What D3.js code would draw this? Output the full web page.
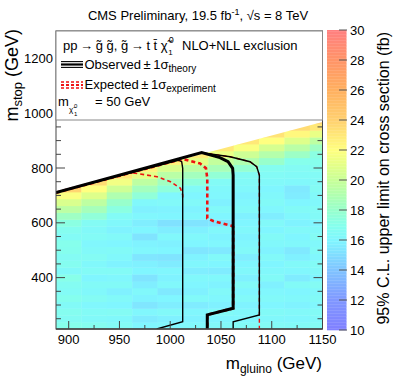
<!DOCTYPE html>
<html>
<head>
<meta charset="utf-8">
<script src="https://cdn.jsdelivr.net/npm/d3@7"></script>
<style>
body { margin: 0; background: #fff; }
svg text { font-family: "Liberation Sans", Arial, Helvetica, sans-serif; fill: #000; }
</style>
</head>
<body>
<svg id="chart" width="399" height="383"></svg>
<script>
// gluino mass bin centres (GeV)
var gluinoMasses = [900, 925, 950, 975, 1000, 1025, 1050, 1075, 1100, 1125, 1150]
// stop mass bins start at 225 GeV and go up in 25 GeV steps
var stopStart = 225, stopStep = 25

// 95% CL upper limit on cross section (fb), one column per gluino mass, bottom to top
var limits = [
    [17.0, 16.6, 16.8, 16.4, 16.9, 16.5, 16.7, 17.1, 16.3, 16.8, 16.6, 16.9, 17.0, 16.5, 16.8, 17.3, 18.3, 19.5, 20.6, 21.8, 23.8],
    [16.8, 16.3, 16.5, 16.1, 16.6, 16.2, 16.4, 16.0, 16.5, 16.2, 16.6, 16.3, 16.1, 16.5, 16.3, 16.6, 17.6, 18.6, 19.6, 20.8, 22.0, 23.5],
    [16.5, 16.2, 16.6, 16.0, 16.3, 15.8, 16.4, 16.1, 16.5, 15.9, 16.2, 16.4, 16.0, 16.3, 15.9, 16.2, 16.5, 17.3, 18.0, 19.0, 20.2, 21.5, 23.0],
    [16.0, 15.6, 16.1, 15.4, 15.9, 16.2, 15.7, 15.3, 16.0, 15.8, 15.4, 16.1, 15.9, 15.3, 16.0, 15.7, 16.1, 15.8, 16.2, 17.6, 18.5, 19.6, 21.0, 22.5],
    [16.1, 15.8, 16.3, 15.7, 16.0, 15.5, 16.2, 15.9, 16.1, 15.6, 15.3, 16.0, 15.8, 16.2, 15.7, 15.2, 16.0, 15.9, 16.3, 16.1, 17.5, 18.4, 19.4, 20.6, 22.5],
    [16.2, 15.9, 16.1, 15.6, 16.3, 15.8, 16.0, 16.2, 15.7, 16.1, 15.9, 15.4, 16.0, 16.2, 15.8, 15.3, 16.1, 15.9, 16.3, 16.0, 16.4, 17.5, 18.5, 19.5, 21.0, 22.8],
    [16.3, 16.0, 16.4, 15.8, 16.1, 16.3, 15.9, 16.2, 15.6, 16.0, 16.3, 15.5, 16.1, 15.9, 16.2, 15.4, 16.0, 16.3, 15.8, 16.1, 16.2, 16.5, 17.7, 18.7, 19.8, 21.3, 23.0],
    [16.4, 16.1, 16.2, 15.9, 16.3, 16.0, 16.4, 15.8, 16.2, 16.0, 15.7, 16.3, 16.1, 15.9, 16.2, 16.0, 15.8, 16.3, 16.1, 15.9, 16.2, 16.4, 16.6, 17.8, 19.0, 20.2, 21.8, 23.0],
    [16.5, 16.2, 16.4, 16.0, 16.3, 16.1, 15.8, 16.4, 16.2, 16.0, 16.3, 15.9, 16.2, 16.4, 16.0, 16.3, 15.7, 16.1, 16.4, 16.2, 16.0, 16.3, 16.5, 16.8, 18.0, 19.2, 20.5, 22.0, 23.2],
    [16.4, 16.1, 16.3, 15.9, 16.2, 16.0, 16.4, 15.6, 16.1, 16.3, 15.8, 15.5, 16.2, 16.0, 16.3, 15.9, 16.1, 16.4, 16.0, 15.6, 15.5, 16.2, 16.4, 16.6, 17.0, 18.2, 19.4, 20.8, 22.3, 23.5],
    [16.6, 16.3, 16.5, 16.1, 16.4, 16.2, 16.6, 16.0, 16.3, 16.5, 16.1, 16.4, 16.2, 16.6, 16.3, 16.0, 16.4, 16.5, 16.2, 16.3, 16.6, 16.4, 16.5, 16.8, 17.0, 17.3, 18.3, 19.6, 21.2, 23.0, 24.0]
]

// kinematic edge of the scan [m_gluino, m_stop]
var diagonal = [[887.5, 710], [1150, 968]]

// exclusion contours [m_gluino, m_stop]
var observed = [[887.5, 710], [1031, 856], [1049, 838], [1057, 823], [1061.5, 799], [1062, 774], [1062, 288], [1036.5, 264], [1036.5, 212.5]]
var observedDown = [[887.5, 710], [1008, 828.5], [1011.3, 823], [1012.3, 799], [1012.3, 239], [986.7, 212.5]]
var observedUp = [[887.5, 710], [1031, 856], [1059, 841], [1078.6, 823], [1085.2, 805], [1087.8, 774], [1087.8, 264], [1062, 239], [1062, 212.5]]
var expected = [[887.5, 710], [1012, 833], [1029.3, 817], [1035.2, 799], [1036.5, 762], [1036.5, 616.5], [1042.4, 606.6], [1060.5, 589.4], [1062, 585], [1062, 288], [1036.5, 264], [1036.5, 212.5]]
var expectedDown = [[963.6, 782], [987, 768.3], [1000.3, 750], [1010.1, 726], [1012.3, 701.5], [1012.3, 690]]
var expectedUp = [[1031, 856], [1059, 841], [1078.6, 823], [1085.2, 805], [1087.8, 774], [1087.8, 212.5]]

// colour palette
var zStops = [10, 12, 14, 15, 16, 17, 18, 19, 20, 21, 22, 23, 24, 26, 28, 30]
var zColors = ["#8080ff", "#8098ff", "#80c4ff", "#80dcff", "#80f6ff", "#86ffec", "#98ffcc", "#b0ffb0",
               "#c8ff98", "#e4ff88", "#ffff80", "#ffe878", "#ffd070", "#ffb060", "#ff9468", "#ff8080"]
var zTicks = [10, 12, 14, 16, 18, 20, 22, 24, 26, 28, 30]
var xTicks = [900, 950, 1000, 1050, 1100, 1150]
var yTicks = [400, 600, 800, 1000, 1200]

var svg = d3.select("#chart")
var plotLeft = 56, plotRight = 322.5, plotTop = 31, plotBottom = 329

var x = d3.scaleLinear().domain([887.5, 1150]).range([plotLeft, plotRight])
var y = d3.scaleLinear().domain([212.5, 1300]).range([plotBottom, plotTop])
var colour = d3.scaleLinear().domain(zStops).range(zColors).clamp(true)

var defs = svg.append("defs")
defs.append("clipPath").attr("id", "scan")
    .append("path")
    .attr("d", "M" + [[887.5, 212.5], diagonal[0], diagonal[1], [1150, 212.5]].map(function(p) {
        return x(p[0]) + "," + y(p[1])
    }).join("L") + "Z")
defs.append("clipPath").attr("id", "frame")
    .append("rect")
    .attr("x", plotLeft).attr("y", plotTop).attr("width", plotRight - plotLeft).attr("height", plotBottom - plotTop)

// cells
var cells = []
limits.forEach(function(col, i) {
    col.forEach(function(v, k) {
        cells.push({g: gluinoMasses[i], s: stopStart + k * stopStep, v: v})
    })
})

svg.append("g")
    .attr("clip-path", "url(#scan)")
    .selectAll("rect")
    .data(cells)
    .enter()
    .append("rect")
    .attr("x", d => x(d.g - 12.5))
    .attr("y", d => y(d.s + 12.5))
    .attr("width", d => x(d.g + 12.5) - x(d.g - 12.5) + 0.4)
    .attr("height", d => y(d.s - 12.5) - y(d.s + 12.5) + 0.4)
    .attr("fill", d => colour(d.v))

// contours
var line = d3.line().x(d => x(d[0])).y(d => y(d[1])).curve(d3.curveLinear)
var contours = svg.append("g").attr("clip-path", "url(#frame)").attr("fill", "none")

contours.append("path").attr("d", line(expectedDown))
    .attr("stroke", "#ee1111").attr("stroke-width", 1.6).attr("stroke-dasharray", "4,3")
contours.append("path").attr("d", line(expectedUp))
    .attr("stroke", "#ee1111").attr("stroke-width", 1.4).attr("stroke-dasharray", "4,3")
contours.append("path").attr("d", line(expected))
    .attr("stroke", "#ee1111").attr("stroke-width", 2.6).attr("stroke-dasharray", "4,3")
contours.append("path").attr("d", line(observedDown))
    .attr("stroke", "#000").attr("stroke-width", 1.4)
contours.append("path").attr("d", line(observedUp))
    .attr("stroke", "#000").attr("stroke-width", 1.4)
contours.append("path").attr("d", line(observed))
    .attr("stroke", "#000").attr("stroke-width", 3)

// frame and ticks
var axes = svg.append("g").attr("stroke", "#444").attr("fill", "none")
axes.append("rect")
    .attr("x", plotLeft).attr("y", plotTop).attr("width", plotRight - plotLeft).attr("height", plotBottom - plotTop)
    .attr("stroke-width", 1)
axes.append("line").attr("x1", plotLeft).attr("x2", plotRight).attr("y1", plotBottom).attr("y2", plotBottom)
    .attr("stroke-width", 1.5)

var yMinor = d3.range(250, 1300, 50)
yMinor.forEach(function(v) {
    var len = (v % 200 == 0) ? 9 : 5
    axes.append("line").attr("x1", plotLeft).attr("x2", plotLeft + len).attr("y1", y(v)).attr("y2", y(v))
    axes.append("line").attr("x1", plotRight).attr("x2", plotRight - len).attr("y1", y(v)).attr("y2", y(v))
})
var xMinor = d3.range(900, 1151, 25)
xMinor.forEach(function(v) {
    var len = (v % 50 == 0) ? 8 : 4
    axes.append("line").attr("x1", x(v)).attr("x2", x(v)).attr("y1", plotBottom).attr("y2", plotBottom - len)
})

svg.append("g").selectAll("text")
    .data(yTicks).enter().append("text")
    .attr("x", 53).attr("y", d => y(d) + 4.5)
    .attr("text-anchor", "end")
    .style("font-size", "13px")
    .text(d => d)

svg.append("g").selectAll("text")
    .data(xTicks).enter().append("text")
    .attr("x", d => x(d)).attr("y", 343.5)
    .attr("text-anchor", "middle")
    .style("font-size", "13px")
    .text(d => d)

// legend box
var legend = svg.append("g")
legend.append("rect")
    .attr("x", plotLeft).attr("y", plotTop).attr("width", plotRight - plotLeft).attr("height", 89)
    .attr("fill", "#fff").attr("stroke", "#888").attr("stroke-width", 1)

var fs = "13px"
var l1 = legend.append("text").attr("x", 63).attr("y", 50).style("font-size", fs)
    .text("pp\u2009\u2192\u2009g\u0303 g\u0303, g\u0303\u2009\u2192\u2009t t\u0304 \u03c7\u0303")
var w1 = l1.node().getComputedTextLength()
legend.append("text").attr("x", 63 + w1 + 1).attr("y", 43).style("font-size", "9px").text("0")
legend.append("text").attr("x", 63 + w1 + 0.5).attr("y", 55).style("font-size", "8px").text("1")
legend.append("text").attr("x", 182).attr("y", 50).style("font-size", fs).text("NLO+NLL exclusion")

// observed symbol: thin, thick, thin
;[[61.6, 1.1], [64.5, 2.2], [67.4, 1.1]].forEach(function(s) {
    legend.append("line").attr("x1", 61).attr("x2", 83).attr("y1", s[0]).attr("y2", s[0])
        .attr("stroke", "#000").attr("stroke-width", s[1])
})
var l2 = legend.append("text").attr("x", 84.5).attr("y", 69).style("font-size", fs)
l2.append("tspan").text("Observed\u2009\u00b1\u20091\u03c3")
l2.append("tspan").attr("dy", 3).style("font-size", "10px").text("theory")

// expected symbol
;[[82, 1.5], [85, 2], [88, 1.5]].forEach(function(s) {
    legend.append("line").attr("x1", 61).attr("x2", 83).attr("y1", s[0]).attr("y2", s[0])
        .attr("stroke", "#ee1111").attr("stroke-width", s[1]).attr("stroke-dasharray", "3,2")
})
var l3 = legend.append("text").attr("x", 84.5).attr("y", 89).style("font-size", fs)
l3.append("tspan").text("Expected\u2009\u00b1\u20091\u03c3")
l3.append("tspan").attr("dy", 3).style("font-size", "10px").text("experiment")

legend.append("text").attr("x", 58).attr("y", 106).style("font-size", fs).text("m")
legend.append("text").attr("x", 69).attr("y", 112).style("font-size", "8px").text("\u03c7\u0303")
legend.append("text").attr("x", 74).attr("y", 108).style("font-size", "6px").text("0")
legend.append("text").attr("x", 74).attr("y", 116).style("font-size", "6px").text("1")
legend.append("text").attr("x", 95).attr("y", 106).style("font-size", fs).text("= 50 GeV")

// title
var title = svg.append("text").attr("x", 198).attr("y", 20).attr("text-anchor", "middle").style("font-size", "13px")
title.append("tspan").text("CMS Preliminary, 19.5 fb")
title.append("tspan").attr("dy", -5).style("font-size", "9px").text("-1")
title.append("tspan").attr("dy", 5).text(", \u221as = 8 TeV")

// axis titles
var xt = svg.append("text").attr("x", 322).attr("y", 368.5).attr("text-anchor", "end").style("font-size", "17px")
xt.append("tspan").text("m")
xt.append("tspan").attr("dy", 4).style("font-size", "12px").text("gluino")
xt.append("tspan").attr("dy", -4).text(" (GeV)")

var yt = svg.append("text").attr("transform", "translate(17.5,29) rotate(-90)").attr("text-anchor", "end").style("font-size", "18px")
yt.append("tspan").text("m")
yt.append("tspan").attr("dy", 4).style("font-size", "13px").text("stop")
yt.append("tspan").attr("dy", -4).text(" (GeV)")

// colour bar
var z = d3.scaleLinear().domain([10, 30]).range([330, 30])
var steps = d3.range(10, 30, 0.1)
svg.append("g").selectAll("rect")
    .data(steps).enter().append("rect")
    .attr("x", 327).attr("width", 19.5)
    .attr("y", d => z(d + 0.1)).attr("height", d => z(d) - z(d + 0.1) + 0.3)
    .attr("fill", d => colour(d + 0.05))

var zaxis = svg.append("g").attr("stroke", "#555")
zTicks.forEach(function(t) {
    zaxis.append("line").attr("x1", 339).attr("x2", 347).attr("y1", z(t)).attr("y2", z(t))
})
svg.append("g").selectAll("text")
    .data(zTicks).enter().append("text")
    .attr("x", 350).attr("y", d => z(d) + 4.5)
    .style("font-size", "13px")
    .text(d => d)

svg.append("text").attr("transform", "translate(389,32) rotate(-90)")
    .attr("text-anchor", "end").style("font-size", "16px")
    .text("95% C.L. upper limit on cross section (fb)")
</script>
</body>
</html>
